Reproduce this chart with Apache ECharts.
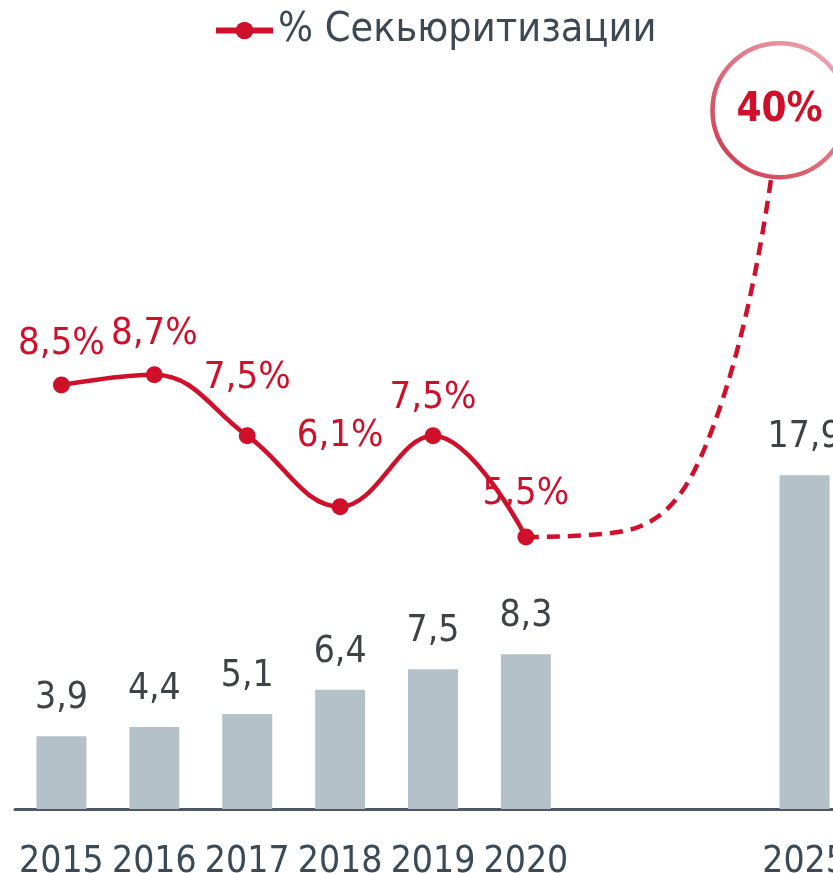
<!DOCTYPE html>
<html>
<head>
<meta charset="utf-8">
<script src="https://cdn.jsdelivr.net/npm/echarts@6/dist/echarts.min.js"></script>
<style>
	html, body { margin: 0; padding: 0; background: #fff; overflow: hidden; }
	#main { width: 851px; height: 873px; }
</style>
</head>
<body>
<div id="main"></div>
<script>
'use strict';
// данные
var years = ['2015', '2016', '2017', '2018', '2019', '2020', '', '', '2025'];
var volume = [3.9, 4.4, 5.1, 6.4, 7.5, 8.3, null, null, 17.9];
var volumeText = ['3,9', '4,4', '5,1', '6,4', '7,5', '8,3', '', '', '17,9'];
var share = [8.5, 8.7, 7.5, 6.1, 7.5, 5.5];
var shareText = ['8,5%', '8,7%', '7,5%', '6,1%', '7,5%', '5,5%'];
// прогноз (пунктир), [позиция по оси, значение на шкале рисунка]
var forecastX = [5, 6, 7, 7.73];
var forecastY = [5.5, 5.6, 7.6, 13.92];
var forecastText = '40%';

var RED = '#d0102a';
var FONT = "'DejaVu Sans Condensed', 'DejaVu Sans', sans-serif";
var labelGap = [13, 13, 30, 43, 10, 15];

var chart = echarts.init(document.getElementById('main'));

var shareData = share.map(function(v, i) {
	return {
		value: v,
		label: { distance: labelGap[i], formatter: shareText[i] }
	};
});

var forecastData = forecastX.map(function(x, i) {
	var last = i === forecastX.length - 1;
	return {
		value: [x, forecastY[i]],
		symbol: last ? 'circle' : 'none',
		symbolSize: last ? 134 : 0,
		itemStyle: last ? {
			color: '#fff',
			borderWidth: 4.5,
			borderColor: new echarts.graphic.LinearGradient(0, 1, 1, 0, [
				{ offset: 0, color: '#d03048' },
				{ offset: 1, color: '#f0b3ba' }
			])
		} : {},
		label: last ? {
			show: true,
			position: 'inside',
			formatter: forecastText,
			fontFamily: FONT,
			fontWeight: 'bold',
			fontSize: 40,
			color: RED
		} : { show: false }
	};
});

var option = {
	animation: false,
	legend: {
		data: ['% Секьюритизации'],
		left: 213,
		top: 10,
		padding: 0,
		itemWidth: 57,
		itemHeight: 22,
		lineStyle: { width: 6 },
		textStyle: {
			fontFamily: FONT,
			fontSize: 41,
			color: '#3d4852'
		}
	},
	grid: {
		left: 15,
		right: 0,
		top: 63,
		bottom: 64,
		outerBoundsMode: 'none'
	},
	xAxis: [{
		type: 'category',
		data: years,
		axisTick: { show: false },
		axisLine: { lineStyle: { color: '#4d5966', width: 3 } },
		axisLabel: {
			margin: 35,
			fontFamily: FONT,
			fontSize: 37,
			color: '#3b4a57',
			interval: 0
		}
	}, {
		type: 'value',
		min: -0.5,
		max: 8.5,
		show: false
	}],
	yAxis: [{
		type: 'value',
		min: 0,
		max: 40,
		show: false
	}, {
		type: 'value',
		min: 0.137,
		max: 14.85,
		show: false
	}],
	series: [{
		name: 'Объем',
		type: 'bar',
		data: volume,
		barWidth: 50,
		itemStyle: { color: '#b5c1c9' },
		label: {
			show: true,
			position: 'top',
			distance: 19,
			fontFamily: FONT,
			fontSize: 37,
			color: '#3f4347',
			formatter: function(p) { return volumeText[p.dataIndex]; }
		}
	}, {
		name: 'Прогноз',
		type: 'line',
		xAxisIndex: 1,
		yAxisIndex: 1,
		data: forecastData,
		smooth: 0.45,
		z: 4,
		lineStyle: { color: RED, width: 4.5, type: [13, 8] },
		itemStyle: { color: RED }
	}, {
		name: '% Секьюритизации',
		type: 'line',
		yAxisIndex: 1,
		data: shareData,
		smooth: 0.4,
		z: 5,
		symbol: 'circle',
		symbolSize: 17,
		lineStyle: { color: RED, width: 4.5 },
		itemStyle: { color: RED },
		label: {
			show: true,
			position: 'top',
			fontFamily: FONT,
			fontSize: 38,
			color: RED
		}
	}]
};

chart.setOption(option);
</script>
</body>
</html>
